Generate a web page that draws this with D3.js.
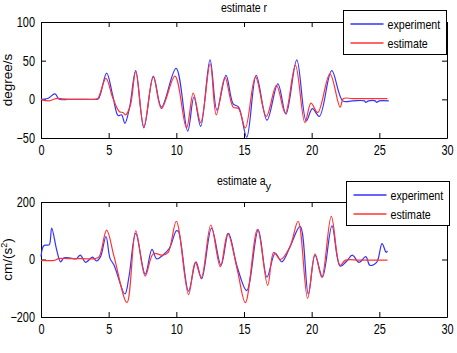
<!DOCTYPE html>
<html>
<head>
<meta charset="utf-8">
<script src="https://cdn.jsdelivr.net/npm/d3@7"></script>
<style>
  body { margin: 0; background: #fff; }
  svg text { font-family: "Liberation Sans", Arial, sans-serif; font-size: 13px; fill: #000; }
</style>
</head>
<body>
<script>
// time ticks shared by both panels
var xTicks = [0, 5, 10, 15, 20, 25, 30];

// yaw rate r (degree/s): [t, value]
var rExperiment = [
  [0, 0], [0.5, 1], [1.03, 7], [1.35, 0], [2, 0], [3, 0], [4, 0], [4.25, 1], [4.85, 34],
  [5.3, 5], [5.7, -21], [5.95, -20], [6.2, -31], [6.55, -10], [7.0, 37], [7.6, -37],
  [8.3, 30], [8.9, -10], [9.98, 40], [10.84, -41], [11.3, 3], [11.8, -35], [12.49, 51],
  [13.0, -14], [13.67, 31], [14.2, -6], [14.6, -10], [15.2, -49], [15.9, 31], [16.7, -27],
  [17.5, 20], [18.1, -19], [18.9, 51], [19.6, -28], [20.05, -12], [20.57, -22],
  [21.48, 37], [22.3, -2], [23, -2], [23.9, -2], [24.0, -4], [24.2, -2], [24.7, -2],
  [24.8, -4], [25, -2], [25.7, -2]
];
var rEstimate = [
  [0, 0], [0.6, -2], [1.1, 1], [2, 0], [3, 0], [4, 0], [4.2, 1], [4.8, 27], [5.3, 2],
  [5.8, -16], [6.05, -17], [6.25, -20], [6.6, -8], [7.0, 36], [7.6, -35], [8.3, 29],
  [8.9, -12], [9.9, 30], [10.75, -37], [11.25, 8], [11.8, -30], [12.5, 46], [12.95, -20],
  [13.6, 28], [14.2, -10], [14.6, -12], [15.1, -37], [15.85, 29], [16.65, -22],
  [17.4, 18], [18.05, -18], [18.8, 44], [19.5, -30], [19.95, -5], [20.45, -17],
  [21.35, 33], [22.1, -10], [22.35, 1], [23, 1], [24, 1], [25, 1], [25.6, 1]
];

// lateral acceleration a_y (cm/s^2): [t, value]
var aExperiment = [
  [0, 10], [0.2, 48], [0.45, 50], [0.62, 52], [0.79, 109], [1.16, 33], [1.45, -8],
  [1.7, 6], [2.2, 5], [2.6, 2], [2.9, 15], [3.3, -10], [3.8, 8], [4.1, -5], [4.4, 10],
  [4.8, 80], [5.1, 4], [5.4, -20], [6.2, -120], [6.5, -60], [7.0, 91], [7.7, -51],
  [8.2, 35], [8.55, 2], [9.0, 15], [9.5, 40], [10.0, 100], [10.15, 98], [10.9, -110],
  [11.45, -8], [11.87, -67], [12.6, 109], [13.3, -20], [13.85, 91], [14.5, -26],
  [15.2, -108], [16.05, 103], [16.7, -61], [17.3, 21], [17.8, -8], [18.4, 44],
  [19.15, 115], [19.75, -120], [20.25, 15], [20.8, -61], [21.5, 117], [22.1, -23],
  [22.6, -5], [23.0, 15], [23.5, -10], [24.0, 10], [24.3, -20], [24.8, -10],
  [25.2, 55], [25.5, 25], [25.6, 30]
];
var aEstimate = [
  [0, -3], [1.0, -3], [1.3, 3], [2, 3], [3, 3], [4, 3], [4.3, 10], [4.85, 102],
  [5.4, 10], [6.35, -150], [7.0, 100], [7.7, -58], [8.3, 20], [9.0, 15], [9.4, 25],
  [10.0, 133], [10.9, -122], [11.4, -10], [11.85, -62], [12.55, 120], [13.25, -25],
  [13.8, 90], [14.5, -35], [15.1, -150], [16.0, 105], [16.75, -90], [17.2, 25],
  [17.7, 0], [18.4, 45], [19.0, 133], [19.7, -135], [20.25, 20], [20.75, -62],
  [21.45, 150], [22.1, -20], [22.5, -2], [23.5, -2], [24.5, -2], [25.6, -2]
];

var seriesNames = ["experiment", "estimate"];

var width = 457, height = 353;
var blue = "#3333ff", red = "#ff3333";

var svg = d3.select("body").append("svg")
  .attr("width", width)
  .attr("height", height);

// squeeze text horizontally, the original looks like a narrow face
function narrow(sel, k) {
  sel.each(function() {
    var w = this.getComputedTextLength();
    d3.select(this).attr("textLength", w * k).attr("lengthAdjust", "spacingAndGlyphs");
  });
}

function panel(opts) {
  var x = d3.scaleLinear().domain([0, 30]).range([41, 447]);
  var y = d3.scaleLinear().domain(opts.yDomain).range([opts.bottom, opts.top]);

  var g = svg.append("g");

  // box with inward ticks on all sides
  g.append("g").attr("transform", "translate(0," + opts.bottom + ")")
    .call(d3.axisBottom(x).tickValues(xTicks).tickSizeInner(-5).tickSizeOuter(0).tickPadding(7));
  g.append("g").attr("transform", "translate(0," + opts.top + ")")
    .call(d3.axisTop(x).tickValues(xTicks).tickSizeInner(-5).tickSizeOuter(0).tickFormat(""));
  g.append("g").attr("transform", "translate(41,0)")
    .call(d3.axisLeft(y).tickValues(opts.yTicks).tickSizeInner(-5).tickSizeOuter(0).tickPadding(6));
  g.append("g").attr("transform", "translate(447,0)")
    .call(d3.axisRight(y).tickValues(opts.yTicks).tickSizeInner(-5).tickSizeOuter(0).tickFormat(""));

  g.selectAll(".domain").attr("stroke", "#000");
  g.selectAll(".tick line").attr("stroke", "#000");
  g.selectAll(".tick text").style("font-size", "14px").attr("fill", "#000");
  narrow(g.selectAll(".tick text"), 0.78);

  var line = d3.line()
    .x(function(d) { return x(d[0]); })
    .y(function(d) { return y(d[1]); })
    .curve(d3.curveCatmullRom.alpha(0.5));

  g.append("path").datum(opts.exp)
    .attr("fill", "none").attr("stroke", blue).attr("stroke-width", 1.2)
    .attr("d", line);
  g.append("path").datum(opts.est)
    .attr("fill", "none").attr("stroke", red).attr("stroke-width", 1.2)
    .attr("d", line);

  // title
  var t = g.append("text")
    .attr("x", 244).attr("y", opts.titleY)
    .attr("text-anchor", "middle");
  var t1 = t.append("tspan").text(opts.title);
  narrow(t1, 0.81);
  if (opts.sub) {
    t.append("tspan").attr("dy", 5).style("font-size", "11px").text(opts.sub);
  }

  // y label
  var yl = g.append("text")
    .attr("transform", "translate(12," + ((opts.top + opts.bottom) / 2) + ") rotate(-90)")
    .attr("text-anchor", "middle")
    .style("font-size", "13.5px");
  yl.append("tspan").text(opts.yLabel);
  if (opts.yLabelSup) {
    yl.append("tspan").attr("dy", -5).style("font-size", "9px").text(opts.yLabelSup);
    yl.append("tspan").attr("dy", 5).text(")");
  }
}

function legend(pos) {
  var lg = svg.append("g").attr("transform", "translate(" + pos[0] + "," + pos[1] + ")");
  lg.append("rect").attr("width", 103).attr("height", 44)
    .attr("fill", "#fff").attr("stroke", "#000").attr("stroke-width", 1);
  seriesNames.forEach(function(name, i) {
    var yy = 13.5 + i * 19;
    lg.append("line").attr("x1", 7).attr("x2", 40).attr("y1", yy).attr("y2", yy)
      .attr("stroke", i === 0 ? blue : red).attr("stroke-width", 1.3);
    var tx = lg.append("text").attr("x", 44).attr("y", yy + 4.5).text(name);
    narrow(tx, 0.82);
  });
}

panel({
  top: 22, bottom: 138, yDomain: [-50, 100], yTicks: [-50, 0, 50, 100],
  exp: rExperiment, est: rEstimate,
  title: "estimate r", titleY: 12, yLabel: "degree/s"
});

panel({
  top: 202, bottom: 317, yDomain: [-200, 200], yTicks: [-200, 0, 200],
  exp: aExperiment, est: aEstimate,
  title: "estimate a", sub: "y", titleY: 185, yLabel: "cm/(s", yLabelSup: "2"
});

legend([343.5, 10.5]);
legend([346.5, 181.5]);
</script>
</body>
</html>
